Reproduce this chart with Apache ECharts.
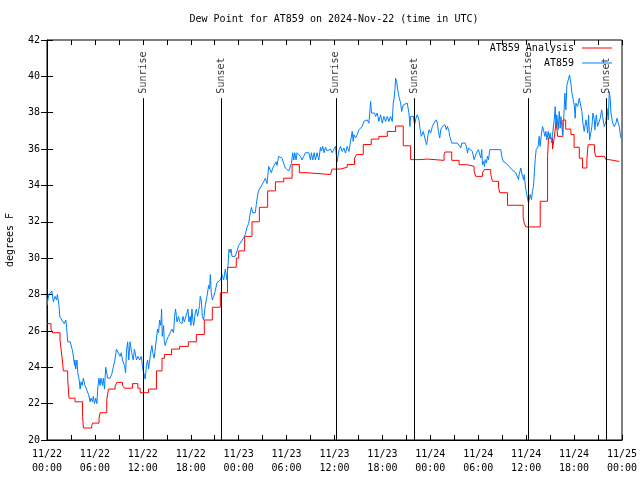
<!DOCTYPE html>
<html><head><meta charset="utf-8">
<script src="https://cdn.jsdelivr.net/npm/echarts@6/dist/echarts.min.js"></script>
<style>html,body{margin:0;padding:0;background:#fff}#c{width:640px;height:480px}</style>
</head><body><div id="c"></div>
<script>
// hours since 2024-11-22 00:00 UTC
const xTickLabels = ['11/22\n00:00','11/22\n06:00','11/22\n12:00','11/22\n18:00','11/23\n00:00','11/23\n06:00','11/23\n12:00','11/23\n18:00','11/24\n00:00','11/24\n06:00','11/24\n12:00','11/24\n18:00','11/25\n00:00'];
const sunNames = ['Sunrise','Sunset','Sunrise','Sunset','Sunrise','Sunset'];
const sunTimes = [12.1, 21.87, 36.17, 45.95, 60.25, 70.08];

// AT859 Analysis (step values: value holds from time onward)
const analysis = [
[0,26.4],[0.5,26.1],[0.7,25.9],[1.63,25.5],[1.76,25.0],[1.92,24.4],[2.05,23.8],[2.59,23.35],[2.76,22.3],[3.51,22.1],[4.45,21.3],[4.56,20.66],[5.6,20.8],[5.73,20.93],[6.52,21.2],[6.65,21.5],[7.48,22.2],[7.69,22.8],[8.53,22.98],[8.74,23.17],[9.45,23.0],[9.7,22.85],[10.7,23.1],[11.37,22.85],[11.66,22.6],[12.7,22.8],
[13.7,23.8],[14.4,24.5],[14.7,24.7],[15.6,25.0],[16.6,25.15],[17.7,25.4],[18.7,25.8],[19.7,26.6],[20.7,27.3],[21.7,28.1],[22.6,29.5],[23.7,30.0],
[24.0,30.4],[24.75,31.2],[25.67,32.0],[26.59,32.8],[27.63,33.7],[28.6,34.2],[29.64,34.4],[30.69,35.15],[31.6,34.7],[32.57,34.6],[35.5,34.6],[35.7,34.9],
[36.7,35.0],[37.59,35.15],[38.51,35.5],[38.76,35.7],[39.6,36.25],[40.6,36.55],[41.56,36.7],[42.61,36.97],[43.65,37.27],[44.61,36.18],[45.53,35.42],[46.58,35.45],[47.62,35.42],
[47.84,35.38],[49.72,35.7],[49.84,35.84],[50.68,35.38],[51.6,35.14],[52.65,35.05],[53.48,34.8],[53.69,34.5],[54.53,34.7],[54.74,34.87],[55.57,34.6],[55.78,34.23],[56.53,33.9],[56.7,33.6],[57.66,32.91],[59.62,32.28],[59.75,31.94],[59.96,31.72],
[61.76,33.13],[62.68,35.6],[62.8,36.6],[63.3,36.0],[63.5,36.6],[63.75,37.5],[63.95,36.7],[64.6,37.6],[64.95,37.1],[65.6,36.8],[66.0,36.1],[66.65,35.5],[67.05,34.96],[67.6,35.4],[67.75,36.24],[68.55,35.9],[68.7,35.6],[69.8,35.6],[70.0,35.42],[70.4,35.32],[71.65,35.32]
];

// AT859 observations
const obs = [
[0.0,27.4],[0.1,27.7],[0.25,28.0],[0.45,28.1],[0.6,28.2],[0.8,27.6],[1.0,27.9],[1.2,27.7],[1.3,28.0],[1.5,27.4],[1.6,26.8],[1.85,26.6],[2.0,26.5],[2.15,26.4],[2.35,26.6],[2.45,26.2],[2.6,25.4],[2.9,25.4],[3.1,25.3],[3.2,24.9],[3.3,24.6],[3.45,24.1],[3.5,24.4],[3.6,23.9],[3.75,24.4],[3.85,23.7],[4.0,23.4],[4.15,22.8],[4.25,23.2],[4.4,23.0],[4.55,23.4],[4.75,23.0],[4.95,23.0],[5.2,22.5],[5.4,22.1],[5.5,22.3],[5.7,22.1],[5.8,22.4],[5.95,22.0],[6.1,22.3],[6.25,22.0],[6.35,22.8],[6.5,23.4],[6.65,23.0],[6.75,23.4],[6.95,23.0],[7.05,23.4],[7.2,22.8],[7.35,24.0],[7.5,23.9],[7.6,23.4],[7.9,23.4],[8.1,23.6],[8.3,24.0],[8.5,24.4],[8.7,25.0],[8.95,24.9],[9.15,24.6],[9.3,24.8],[9.45,24.4],[9.7,24.1],[9.85,23.7],[9.95,24.9],[10.1,25.4],[10.25,24.4],[10.4,25.4],[10.6,24.8],[10.8,24.4],[10.95,25.0],[11.2,24.4],[11.4,24.6],[11.6,24.4],[11.8,24.6],[12.0,23.9],
[12.17,23.9],[12.3,23.35],[12.45,24.1],[12.6,24.4],[12.72,23.9],[12.92,24.6],[13.13,25.2],[13.25,24.8],[13.42,24.5],[13.55,24.6],[13.68,25.5],[13.85,26.1],[13.97,25.9],[14.1,26.6],[14.26,26.3],[14.35,27.2],[14.43,25.7],[14.6,26.3],[14.68,25.45],[14.8,25.2],[15.0,25.5],[15.2,25.7],[15.43,25.9],[15.64,26.1],[15.85,25.9],[15.97,26.8],[16.1,27.2],[16.27,26.5],[16.48,26.8],[16.6,26.5],[16.77,26.6],[16.9,26.4],[17.02,26.8],[17.2,26.5],[17.35,26.6],[17.52,27.0],[17.65,27.2],[17.77,26.5],[17.94,26.8],[18.02,26.3],[18.15,27.2],[18.27,26.6],[18.36,26.3],[18.57,27.0],[18.7,27.2],[18.86,26.8],[18.98,27.1],[19.1,27.4],[19.19,27.9],[19.32,27.7],[19.45,26.8],[19.61,26.6],[19.82,27.4],[20.03,27.9],[20.24,28.5],[20.36,28.3],[20.45,29.1],[20.57,28.1],[20.7,27.7],[20.87,27.9],[21.07,28.2],[21.28,28.65],[21.5,28.7],[21.7,28.8],[21.9,29.1],[22.12,28.8],[22.33,29.4],[22.54,28.8],[22.66,29.6],[22.79,30.5],[22.95,30.3],[23.04,30.5],[23.16,30.1],[23.37,30.2],[23.58,30.1],[23.8,30.4],[24.0,30.7],[24.2,30.8],
[24.6,31.1],[24.83,31.3],[25.04,31.7],[25.25,31.9],[25.46,32.5],[25.6,32.8],[25.75,32.5],[26.08,32.5],[26.21,32.95],[26.38,33.5],[26.59,33.8],[26.84,33.9],[27.13,34.2],[27.34,34.4],[27.55,34.1],[27.76,35.05],[27.97,35.0],[28.1,34.7],[28.26,34.95],[28.51,34.95],[28.68,35.3],[28.8,35.1],[29.0,35.6],[29.2,35.5],[29.43,35.5],[29.64,35.2],[29.85,34.95],[30.06,34.9],[30.27,34.8],[30.48,34.9],[30.6,35.2],[30.77,35.8],[30.9,35.4],[31.02,35.8],[31.19,35.4],[31.31,35.8],[31.52,35.7],[31.73,35.6],[31.94,35.4],[32.15,35.6],[32.36,35.8],[32.55,35.8],[32.78,35.8],[32.99,35.4],[33.11,35.8],[33.28,35.4],[33.45,35.8],[33.61,35.4],[33.82,35.8],[34.03,35.4],[34.24,36.1],[34.37,35.9],[34.53,36.15],[34.7,35.8],[34.87,36.1],[35.08,35.9],[35.29,35.8],[35.5,36.0],[35.7,35.8],[35.91,35.8],[36.12,36.15],[36.25,35.6],[36.33,35.3],[36.54,35.9],[36.75,36.15],
[36.96,35.87],[37.17,36.06],[37.38,35.78],[37.59,36.15],[37.8,35.87],[38.0,35.78],[38.22,36.97],[38.34,36.42],[38.43,36.79],[38.64,36.61],[38.84,36.79],[39.05,37.06],[39.26,37.15],[39.47,37.24],[39.68,37.52],[39.89,37.43],[40.1,37.61],[40.31,37.43],[40.52,38.62],[40.64,37.98],[40.85,38.07],[41.02,37.98],[41.14,37.8],[41.35,37.98],[41.56,37.52],[41.77,37.89],[41.98,37.43],[42.19,37.8],[42.4,37.52],[42.61,37.8],[42.82,37.52],[43.02,37.8],[43.23,37.52],[43.36,38.53],[43.44,38.72],[43.57,39.26],[43.65,39.9],[43.78,39.71],[43.86,39.44],[43.99,39.07],[44.11,38.8],[44.28,38.53],[44.4,38.07],[44.61,38.43],[44.78,38.53],[45.11,38.53],[45.32,37.98],[45.45,37.24],[45.53,37.8],[45.66,37.7],[45.87,37.8],[46.03,37.34],[46.2,37.7],[46.37,37.89],[46.58,37.6],[46.7,37.15],[46.87,36.7],[47.12,36.97],[47.29,36.88],[47.41,36.42],[47.54,36.24],[47.71,36.79],[47.83,37.06],[48.04,36.88],[48.25,37.24],[48.46,37.43],[48.67,37.34],
[48.76,37.61],[48.88,37.43],[49.01,36.97],[49.18,36.61],[49.3,37.06],[49.51,37.24],[49.72,37.15],[49.84,37.34],[50.01,37.06],[50.14,37.24],[50.35,36.97],[50.43,36.7],[50.56,36.61],[50.68,36.33],[51.39,36.33],[51.6,36.24],[51.81,36.06],[51.93,36.33],[52.35,36.33],[52.52,36.15],[52.65,35.78],[52.77,36.06],[52.98,36.06],[53.27,35.87],[53.48,35.42],[53.61,35.42],[53.77,35.78],[54.02,35.97],[54.19,35.69],[54.32,35.51],[54.44,35.97],[54.53,35.14],[54.65,35.32],[54.78,35.05],[54.86,35.42],[55.03,35.23],[55.15,35.6],[55.28,35.42],[55.45,35.97],[56.83,35.97],[56.95,35.6],[57.12,35.32],[57.45,35.23],[57.66,35.14],[57.87,35.05],[58.08,35.05],[58.2,34.87],[58.37,34.77],[58.71,34.69],[58.92,34.59],[59.04,34.32],[59.12,34.59],[59.33,34.96],[59.46,35.05],[59.54,34.5],[59.67,34.32],[59.75,34.59],[59.88,34.05],[59.96,33.77],[60.09,33.86],[60.17,33.31],[60.29,33.04],
[60.38,33.13],[60.5,33.5],[60.67,33.22],[60.79,33.68],[60.92,33.95],[61.0,34.5],[61.13,35.42],[61.25,35.97],[61.42,35.87],[61.5,36.15],[61.63,36.7],[61.75,36.15],[61.92,36.88],[62.05,37.24],[62.17,37.06],[62.34,36.7],[62.47,36.97],[62.59,36.51],[62.76,36.97],[62.88,36.6],[63.01,36.88],[63.18,36.33],[63.3,36.79],[63.51,37.61],[63.64,38.34],[63.72,37.24],[63.84,37.88],[64.01,37.06],[64.14,38.07],[64.26,37.15],[64.35,37.79],[64.56,36.79],[64.68,37.52],[64.85,39.07],[64.97,38.16],[65.1,39.53],[65.27,39.8],[65.43,40.08],[65.6,39.62],[65.73,39.07],[65.85,38.98],[66.02,38.43],[66.14,37.7],[66.23,38.52],[66.44,38.34],[66.65,38.8],[66.85,38.71],[66.98,38.07],[67.1,37.43],[67.27,36.97],[67.48,37.61],[67.61,37.24],[67.69,36.88],[67.82,37.88],[67.94,36.51],[68.11,36.42],[68.23,37.24],[68.36,37.98],[68.53,37.61],[68.61,37.06],[68.78,37.88],[68.94,37.24],[69.15,37.34],[69.28,37.7],[69.45,38.16],[69.57,37.79],[69.78,37.24],[69.99,37.52],[70.11,38.25],[70.28,37.61],[70.41,39.16],[70.53,38.71],[70.62,37.98],[70.83,37.43],[71.03,37.24],[71.24,37.43],[71.37,37.7],[71.54,37.43],[71.66,37.24],[71.79,36.79],[71.87,36.6]
];

const FONT = 'DejaVu Sans Mono';
const chart = echarts.init(document.getElementById('c'), null, {renderer: 'canvas'});
const tickCommon = {inside: true, length: 5, lineStyle: {color: '#000', width: 1}};
chart.setOption({
  animation: false,
  backgroundColor: '#fff',
  title: {
    text: 'Dew Point for AT859 on 2024-Nov-22 (time in UTC)',
    left: 334, top: 14, textAlign: 'center', padding: 0,
    textStyle: {fontFamily: FONT, fontSize: 10, fontWeight: 'normal', color: '#000'}
  },
  legend: [
    {data: ['AT859 Analysis'], right: 28, top: 43, padding: 0, align: 'right', icon: 'rect', itemWidth: 30, itemHeight: 1, itemGap: 0,
     textStyle: {fontFamily: FONT, fontSize: 10, color: '#000', padding: [0, 3, 0, 0]}, selectedMode: false},
    {data: ['AT859'], right: 28, top: 58, padding: 0, align: 'right', icon: 'rect', itemWidth: 30, itemHeight: 1, itemGap: 0,
     textStyle: {fontFamily: FONT, fontSize: 10, color: '#000', padding: [0, 3, 0, 0]}, selectedMode: false}
  ],
  grid: {left: 47, right: 18, top: 40, bottom: 40, outerBoundsMode: 'none', containLabel: false,
         show: true, borderColor: '#000', borderWidth: 1, backgroundColor: 'transparent'},
  xAxis: [
    {type: 'value', min: 0, max: 72, interval: 3, position: 'bottom',
     axisLine: {show: true, lineStyle: {color: '#000'}}, axisTick: tickCommon, splitLine: {show: false},
     axisLabel: {margin: 7, lineHeight: 14, color: '#000', fontFamily: FONT, fontSize: 10, showMinLabel: true, showMaxLabel: true,
       formatter: v => (v % 6 === 0 ? xTickLabels[v / 6] : '')}},
    {type: 'value', min: 0, max: 72, interval: 3, position: 'top',
     axisLine: {show: false}, axisTick: tickCommon, axisLabel: {show: false}, splitLine: {show: false}}
  ],
  yAxis: [
    {type: 'value', min: 20, max: 42, interval: 2, position: 'left',
     name: 'degrees F', nameLocation: 'middle', nameGap: 32, nameRotate: 90,
     nameTextStyle: {fontFamily: FONT, fontSize: 10, color: '#000'},
     axisLine: {show: true, lineStyle: {color: '#000'}}, axisTick: Object.assign({}, tickCommon, {length: 6}), splitLine: {show: false},
     axisLabel: {margin: 7, color: '#000', fontFamily: FONT, fontSize: 10}},
    {type: 'value', min: 20, max: 42, interval: 2, position: 'right',
     axisLine: {show: false}, axisTick: Object.assign({}, tickCommon, {length: 6}), axisLabel: {show: false}, splitLine: {show: false}}
  ],
  series: [
    {name: 'AT859 Analysis', type: 'line', data: analysis, step: 'end', showSymbol: false, symbol: 'none',
     color: '#ff0000', lineStyle: {color: '#ff0000', width: 1}, silent: true, z: 3},
    {name: 'AT859', type: 'line', data: obs, showSymbol: false, symbol: 'none',
     color: '#0080ff', lineStyle: {color: '#0080ff', width: 1}, silent: true, z: 4},
    {name: 'sun', type: 'scatter', symbolSize: 0, silent: true, z: 5,
     data: sunTimes.map((t, i) => [t, 39.05, sunNames[i]]),
     label: {show: true, position: 'inside', rotate: 90, align: 'left', verticalAlign: 'middle',
       formatter: p => p.value[2], fontFamily: FONT, fontSize: 10, color: '#000'},
     markLine: {silent: true, symbol: ['none', 'none'], animation: false,
       lineStyle: {color: '#000', width: 1, type: 'solid'}, label: {show: false},
       data: sunTimes.map(t => [{coord: [t, 20]}, {coord: [t, 38.8]}])}}
  ]
});
</script></body></html>
